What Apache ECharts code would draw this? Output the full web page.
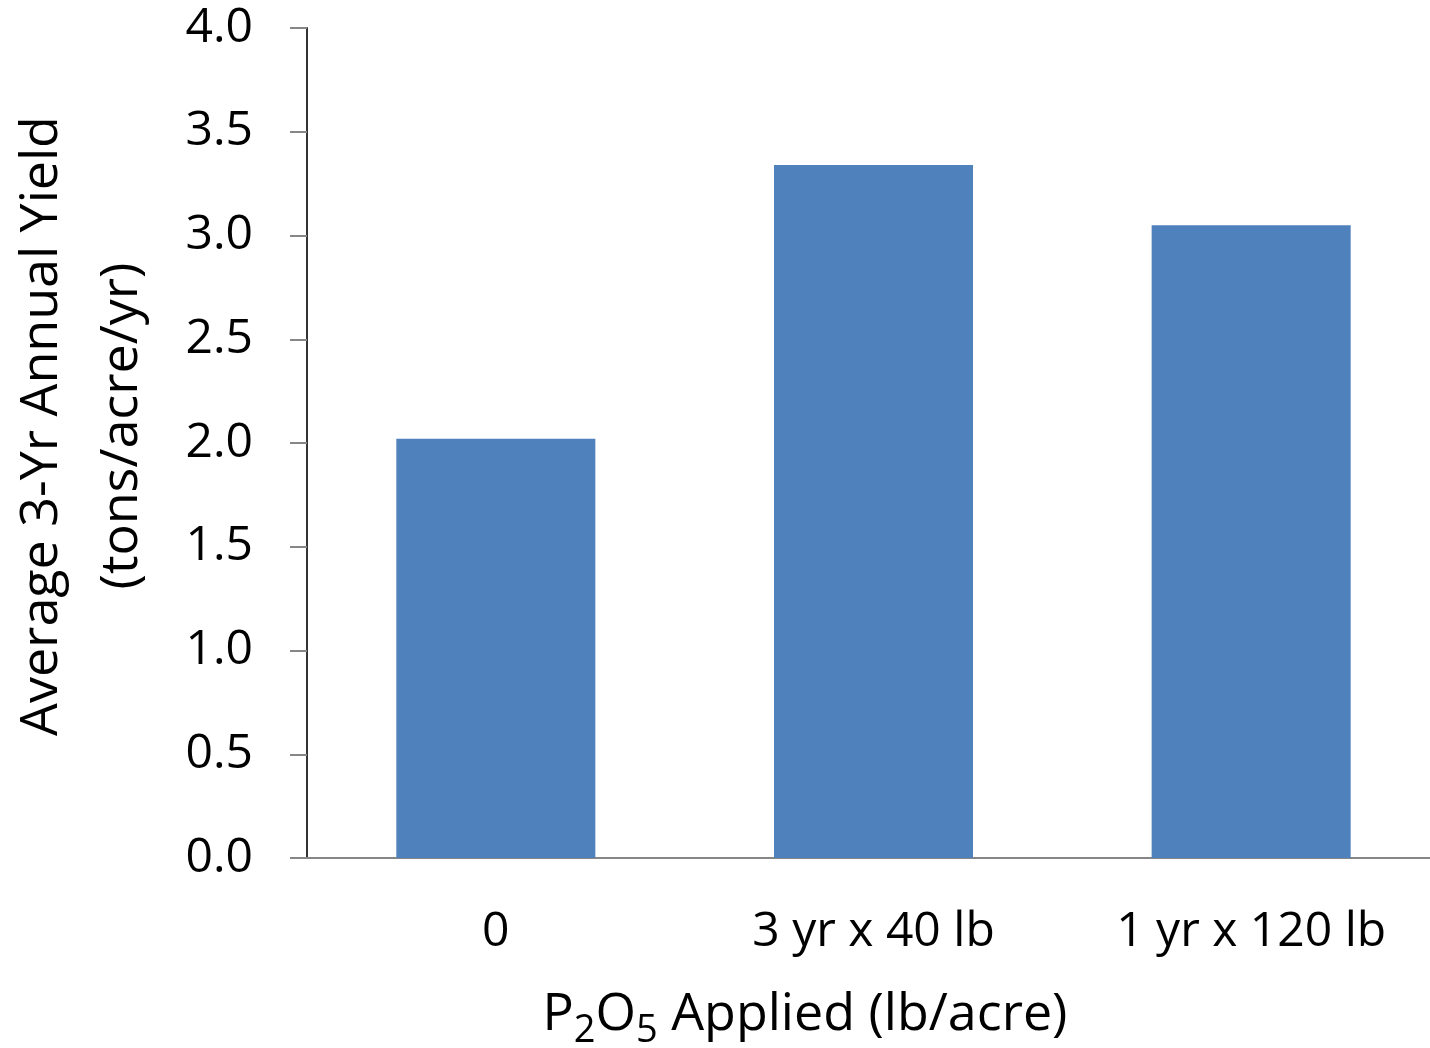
<!DOCTYPE html>
<html>
<head>
<meta charset="utf-8">
<script src="https://cdn.jsdelivr.net/npm/echarts@6/dist/echarts.min.js"></script>
<style>
  html, body { margin: 0; padding: 0; background: #fff; overflow: hidden; }
  #chart { width: 1430px; height: 1048px; }
</style>
</head>
<body>
<div id="chart"></div>
<script>
const categories = ["0", "3 yr x 40 lb", "1 yr x 120 lb"];
const yieldValues = [2.02, 3.34, 3.05];
const yTicks = { min: 0, max: 4, interval: 0.5 };

const chart = echarts.init(document.getElementById("chart"));
const font = "'Open Sans', sans-serif";

const option = {
  animation: false,
  // plot runs a little past the right edge, like the original slide crop
  grid: {
    left: 307,
    width: 1133,
    top: 28,
    height: 830,
    containLabel: false,
    outerBoundsMode: "none",
  },
  xAxis: {
    type: "category",
    data: categories,
    axisLine: { lineStyle: { color: "#868686", width: 2 } },
    axisTick: { show: false },
    axisLabel: { color: "#000", fontSize: 48, fontFamily: font, margin: 50 },
  },
  yAxis: {
    type: "value",
    min: yTicks.min,
    max: yTicks.max,
    interval: yTicks.interval,
    axisLine: { show: true, lineStyle: { color: "#333", width: 2 } },
    axisTick: { show: true, length: 17, lineStyle: { color: "#868686", width: 2 } },
    axisLabel: {
      color: "#000",
      fontSize: 48,
      fontFamily: font,
      margin: 54,
      formatter: (v) => v.toFixed(1),
    },
    splitLine: { show: false },
  },
  graphic: [
    {
      // y axis title, two lines, rotated
      type: "text",
      x: 82,
      y: 426,
      rotation: Math.PI / 2,
      style: {
        text: "Average 3-Yr Annual Yield\n(tons/acre/yr)",
        font: "52px 'Open Sans', sans-serif",
        fill: "#000",
        align: "center",
        verticalAlign: "middle",
        lineHeight: 80,
      },
    },
    {
      // x axis title with subscripts
      type: "text",
      x: 805,
      y: 1015,
      style: {
        text: "P{sub|2}O{sub|5} Applied (lb/acre)",
        fontSize: 52,
        fontFamily: font,
        fill: "#000",
        align: "center",
        verticalAlign: "middle",
        lineHeight: 70,
        rich: {
          sub: { fontSize: 38, fontFamily: font, verticalAlign: "bottom", fill: "#000" },
        },
      },
    },
  ],
  series: [
    {
      type: "bar",
      data: yieldValues,
      barWidth: "52.7%",
      itemStyle: { color: "#4F81BD" },
    },
  ],
};

chart.setOption(option);
</script>
</body>
</html>
